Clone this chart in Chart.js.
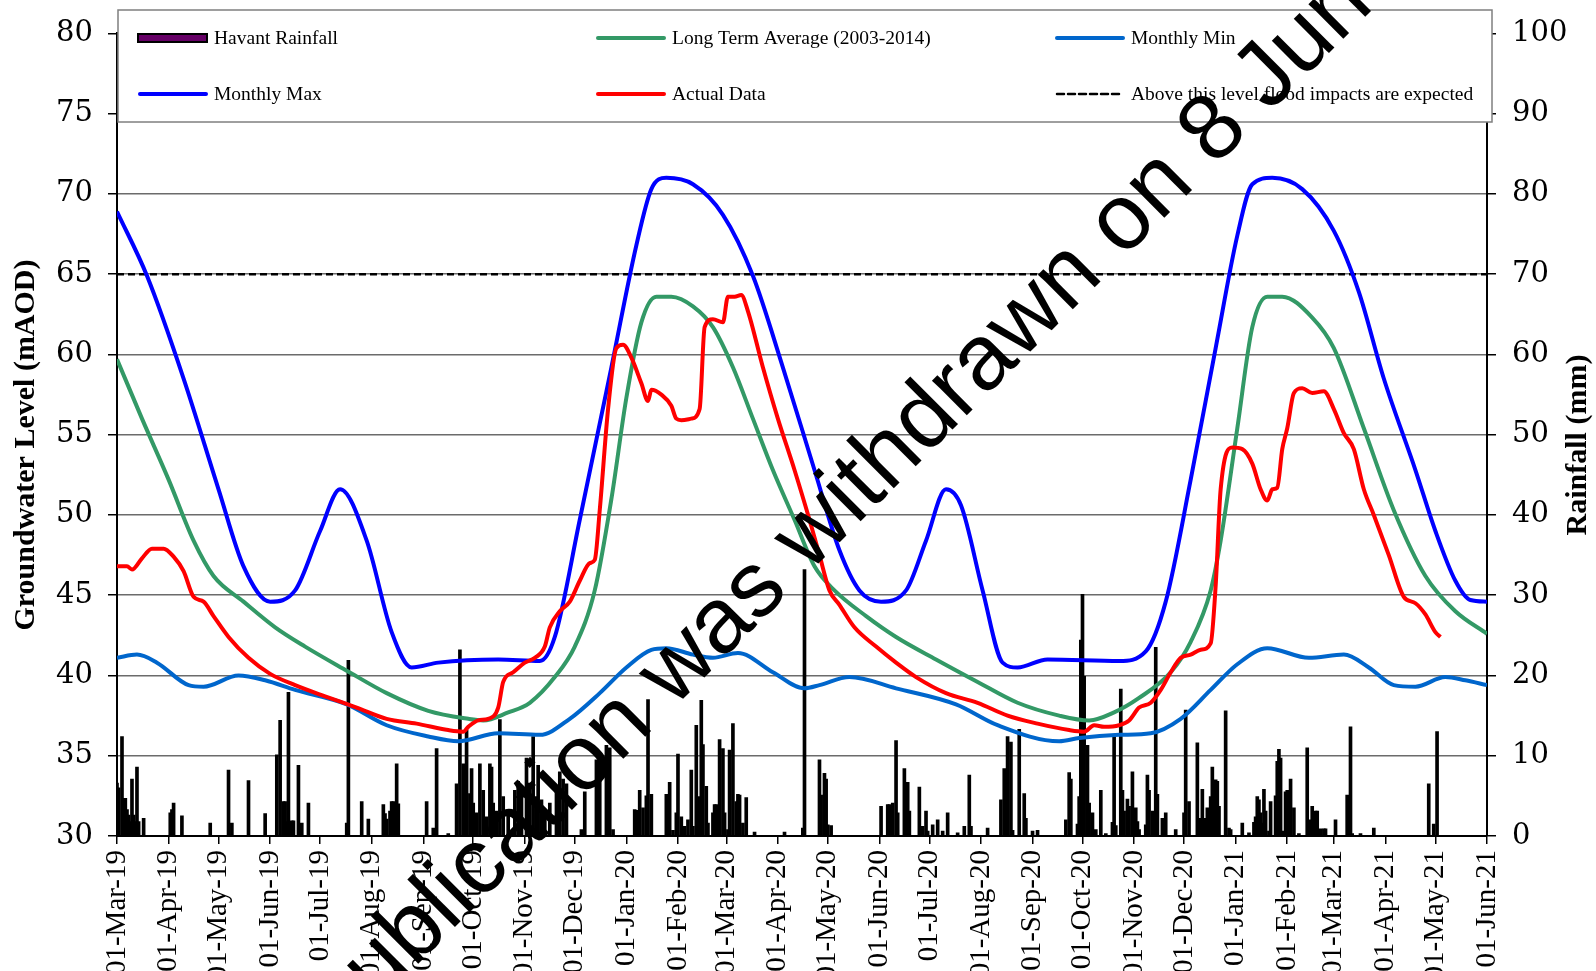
<!DOCTYPE html>
<html>
<head>
<meta charset="utf-8">
<title>Havant groundwater level</title>
<script src="https://cdn.jsdelivr.net/npm/chart.js@4.4.0/dist/chart.umd.min.js"></script>
<style>
  html, body { margin: 0; padding: 0; background: #fff; }
  canvas { display: block; }
</style>
</head>
<body>
<canvas id="myChart" width="1596" height="971"></canvas>
<script>
'use strict';

// x values are days counted from 01-Mar-2019
const tickDays = [0, 31, 61, 92, 122, 153, 184, 214, 245, 275, 306, 337, 366, 397, 427, 458, 488, 519, 550, 580, 611, 641, 672, 703, 731, 762, 792, 823];
const tickLabels = ['01-Mar-19', '01-Apr-19', '01-May-19', '01-Jun-19', '01-Jul-19', '01-Aug-19', '01-Sep-19', '01-Oct-19', '01-Nov-19', '01-Dec-19',
  '01-Jan-20', '01-Feb-20', '01-Mar-20', '01-Apr-20', '01-May-20', '01-Jun-20', '01-Jul-20', '01-Aug-20', '01-Sep-20', '01-Oct-20', '01-Nov-20', '01-Dec-20',
  '01-Jan-21', '01-Feb-21', '01-Mar-21', '01-Apr-21', '01-May-21', '01-Jun-21'];

// daily rainfall (mm), only the wet days
const rainDays = [0, 1, 3, 4, 5, 6, 7, 8, 9, 10, 11, 12, 13, 16, 32, 33, 34, 39, 56, 67, 69, 79, 89,
  96, 98, 100, 101, 102, 103, 105, 106, 109, 111, 115, 138, 139, 147, 151,
  160, 161, 162, 164, 165, 166, 168, 169, 186, 190, 192, 199,
  204, 206, 208, 209, 210, 212, 213, 214, 216, 218, 220, 222, 224, 225, 226, 228, 230, 232, 235, 239, 241, 243, 246, 248, 250, 252, 253, 255, 257, 260, 264, 266, 268, 270,
  279, 281, 288, 290, 294, 296, 298, 311, 312, 314, 316, 318, 319, 321,
  330, 332, 334, 336, 337, 339, 341, 343, 345, 346, 348, 350, 351, 352, 354, 355, 358, 359, 360, 362, 364, 365, 367, 368, 370, 372, 373, 374, 376, 378, 383,
  401, 412, 413, 422, 423, 425, 426, 427, 429,
  459, 463, 464, 466, 468, 469, 473, 475, 476, 482, 484, 486, 487, 490, 493, 496, 499, 505, 509, 512, 513, 523,
  531, 533, 535, 537, 538, 542, 545, 546, 550, 553,
  570, 572, 573, 577, 578, 579, 580, 581, 583, 584, 586, 588, 591, 594, 598, 599, 600, 603, 604, 605, 607, 608, 610, 612, 613, 614, 618, 619, 620, 622, 624, 625, 628, 630, 636,
  641, 642, 644, 649, 651, 652, 654, 655, 657, 658, 660, 661, 662, 666, 668, 669,
  676, 680, 683, 684, 685, 686, 687, 688, 689, 690, 692, 693, 696, 697, 698, 699, 700, 702, 703, 705, 707, 710, 715, 717, 718, 720, 721, 723, 725, 726,
  732, 739, 741, 742, 747, 755, 788, 791, 793];
const rainMm = [6.6, 6.0, 12.4, 4.7, 4.7, 3.3, 2.6, 1.8, 7.1, 2.6, 1.8, 8.6, 1.8, 2.2, 2.9, 3.3, 4.1, 2.5, 1.6, 8.2, 1.6, 6.9, 2.8,
  10.1, 14.4, 4.3, 4.3, 1.8, 17.9, 1.9, 1.9, 8.8, 1.6, 4.1, 1.6, 21.9, 4.3, 2.1,
  3.9, 2.8, 2.1, 3.1, 4.3, 4.3, 9.0, 4.0, 4.3, 1.0, 10.9, 0.3,
  6.5, 23.2, 9.0, 4.1, 13.2, 5.3, 8.4, 4.1, 2.9, 9.0, 5.7, 2.4, 9.0, 8.6, 4.1, 3.1, 14.5, 4.9, 3.3, 5.7, 6.8, 5.3, 9.7, 6.6, 12.4, 4.9, 8.8, 4.5, 3.3, 4.1, 5.7, 8.0, 7.1, 6.5,
  0.8, 5.5, 9.5, 9.5, 11.3, 11.0, 0.8, 3.3, 3.2, 5.7, 3.5, 5.0, 17.0, 5.2,
  5.2, 6.7, 0.7, 2.9, 10.2, 2.4, 1.2, 2.0, 8.2, 1.2, 13.8, 4.9, 16.9, 11.4, 6.2, 1.6, 2.9, 3.9, 3.9, 12.0, 10.9, 2.9, 0.8, 10.7, 14.0, 4.3, 5.2, 5.1, 1.6, 4.8, 0.5,
  0.5, 1.0, 33.2, 9.5, 5.1, 7.8, 7.1, 1.4, 1.3,
  3.7, 3.9, 3.9, 4.1, 11.9, 2.9, 8.4, 6.7, 3.1, 6.1, 1.2, 3.1, 0.6, 1.4, 2.0, 0.6, 2.9, 0.4, 1.2, 7.6, 1.2, 1.0,
  4.5, 8.4, 12.4, 11.7, 0.7, 13.3, 5.3, 2.2, 0.6, 0.7,
  2.0, 7.9, 7.1, 1.5, 4.9, 24.4, 30.1, 19.9, 11.3, 4.1, 2.9, 0.8, 5.7, 0.3, 1.7, 12.6, 1.3, 18.3, 5.7, 3.1, 4.6, 3.7, 8.0, 3.5, 1.8, 0.8, 1.4, 7.6, 5.7, 3.1, 23.5, 5.2, 2.2, 2.9, 0.8,
  2.9, 15.7, 4.3, 11.6, 2.2, 5.8, 2.2, 3.5, 4.9, 8.6, 7.0, 6.8, 3.7, 15.6, 1.0, 0.8,
  1.6, 0.4, 1.7, 2.4, 4.9, 4.5, 2.9, 1.6, 5.8, 3.1, 0.6, 4.3, 5.0, 9.3, 10.8, 9.7, 0.6, 5.5, 5.7, 7.1, 3.5, 0.3, 11.0, 2.0, 3.7, 3.1, 3.1, 0.9, 0.9, 0.9,
  2.0, 5.1, 13.6, 0.3, 0.3, 1.0, 6.5, 1.5, 13.0];

// groundwater levels (mAOD)
const ltaDays = [0, 15, 31, 46, 58, 76, 95, 113, 138, 162, 187, 211, 220, 235, 248, 263, 275, 287, 297, 306, 315, 324, 333, 346, 358, 370, 382, 394, 407, 419, 431, 450, 468, 492, 517, 541, 566, 584, 599, 614, 633, 645, 657, 663, 673, 682, 691, 700, 718, 731, 749, 767, 786, 804, 823];
const ltaLevel = [59.7, 56.0, 52.2, 48.4, 46.2, 44.6, 43.0, 41.8, 40.3, 38.9, 37.8, 37.3, 37.2, 37.7, 38.3, 39.9, 41.8, 45.3, 51.0, 57.3, 62.0, 63.6, 63.6, 63.0, 61.7, 59.2, 56.0, 52.8, 49.7, 46.8, 45.3, 43.7, 42.4, 41.0, 39.6, 38.3, 37.5, 37.2, 37.7, 38.6, 40.2, 42.1, 45.3, 48.4, 55.4, 61.7, 63.6, 63.6, 62.3, 60.4, 55.4, 50.3, 46.2, 44.0, 42.6];

const minDays = [0, 12, 24, 43, 52, 73, 89, 107, 138, 162, 187, 205, 229, 254, 272, 290, 306, 321, 330, 346, 358, 373, 394, 413, 422, 440, 468, 504, 529, 566, 578, 602, 621, 639, 657, 673, 691, 716, 737, 752, 767, 780, 798, 810, 823];
const minLevel = [41.1, 41.3, 40.8, 39.4, 39.3, 40.0, 39.7, 39.1, 38.2, 36.9, 36.2, 35.9, 36.4, 36.3, 37.3, 38.9, 40.5, 41.6, 41.7, 41.3, 41.1, 41.4, 40.2, 39.2, 39.4, 39.9, 39.2, 38.2, 36.9, 35.9, 36.1, 36.3, 36.4, 37.3, 39.1, 40.7, 41.7, 41.1, 41.3, 40.5, 39.4, 39.3, 39.9, 39.7, 39.4];

const maxDays = [0, 18, 40, 61, 76, 92, 107, 122, 134, 150, 165, 177, 193, 229, 254, 263, 278, 297, 312, 321, 330, 346, 364, 382, 400, 419, 434, 446, 459, 474, 486, 498, 507, 520, 532, 541, 559, 602, 618, 630, 645, 660, 673, 682, 694, 712, 731, 746, 761, 780, 792, 804, 813, 823];
const maxLevel = [68.9, 64.9, 58.5, 51.6, 46.8, 44.6, 45.3, 49.0, 51.6, 48.4, 42.7, 40.5, 40.8, 41.0, 40.9, 42.4, 49.7, 59.2, 66.8, 70.3, 71.0, 70.6, 68.7, 64.9, 59.2, 52.8, 47.8, 45.3, 44.6, 45.3, 48.4, 51.6, 50.6, 45.3, 40.8, 40.5, 41.0, 40.9, 41.5, 44.6, 52.2, 60.4, 67.4, 70.6, 71.0, 70.3, 67.7, 63.9, 58.5, 52.8, 49.0, 45.9, 44.7, 44.6];

const actualDays = [0, 6, 9, 15, 21, 28, 34, 40, 46, 52, 58, 67, 79, 92, 107, 125, 144, 162, 180, 199, 208, 211, 217, 223, 229, 232, 238, 245, 251, 257, 260, 266, 272, 278, 284, 287,
  290, 295, 300, 304, 309, 315, 319, 321, 327, 333, 336, 339, 345, 350, 353, 358, 364, 367, 371, 375, 379, 388, 397, 407, 416, 422, 428, 434, 443, 456, 468, 480, 498, 517, 535, 553,
  572, 581, 587, 593, 602, 608, 614, 621, 627, 633, 639, 645, 651, 657, 660, 663, 670, 676, 682, 687, 691, 694, 697, 700, 703, 707, 712, 718, 725, 731, 737, 743, 749, 755, 764, 773, 780, 786, 792, 795];
const actualLevel = [46.8, 46.8, 46.6, 47.3, 47.9, 47.9, 47.4, 46.5, 44.9, 44.6, 43.7, 42.4, 41.1, 40.1, 39.4, 38.7, 38.0, 37.3, 37.0, 36.6, 36.5, 36.8, 37.2, 37.3, 38.0, 39.6, 40.2, 40.8, 41.1, 41.8, 43.0, 44.0, 44.6, 45.9, 47.0, 47.2,
  50.3, 56.6, 60.4, 60.6, 59.8, 58.2, 57.1, 57.8, 57.5, 56.8, 56.0, 55.9, 56.0, 56.6, 61.7, 62.2, 62.0, 63.6, 63.6, 63.7, 62.7, 59.2, 56.0, 52.8, 49.7, 47.5, 45.3, 44.4, 43.0, 41.8, 40.8, 39.9, 38.9, 38.3, 37.5, 37.0,
  36.6, 36.5, 36.9, 36.8, 36.9, 37.2, 38.0, 38.3, 39.1, 40.2, 41.1, 41.3, 41.6, 42.0, 45.6, 51.6, 54.2, 54.1, 53.2, 51.6, 50.9, 51.6, 51.7, 54.1, 55.4, 57.6, 57.9, 57.6, 57.7, 56.6, 55.1, 54.1, 51.6, 50.0, 47.5, 44.9, 44.5, 43.8, 42.7, 42.4];

const floodLevel = 65;

const toPoints = (days, vals) => days.map((d, i) => ({ x: d, y: vals[i] }));
const SERIF = '"Liberation Serif", "Times New Roman", serif';

const lineSet = (label, days, vals, color, order) => ({
  type: 'line',
  label: label,
  data: toPoints(days, vals),
  borderColor: color,
  backgroundColor: color,
  borderWidth: 4,
  pointRadius: 0,
  cubicInterpolationMode: 'monotone',
  yAxisID: 'y',
  order: order
});

// legend (2 rows x 3 columns), axis titles and the watermark
const overlay = {
  id: 'overlay',
  afterDatasetsDraw(chart) {
    const c = chart.ctx;
    const ds = chart.data.datasets;
    c.save();
    c.fillStyle = '#fff';
    c.fillRect(118, 10, 1374, 112);
    c.strokeStyle = '#7f7f7f';
    c.lineWidth = 1.5;
    c.strokeRect(118, 10, 1374, 112);

    const cols = [138, 596, 1055];
    const rows = [38, 94];
    const legendOrder = [0, 2, 4, 3, 5, 1];
    c.font = '19.5px ' + SERIF;
    c.textBaseline = 'middle';
    c.textAlign = 'left';
    legendOrder.forEach((idx, k) => {
      const d = ds[idx];
      const x = cols[k % 3];
      const y = rows[Math.floor(k / 3)];
      if (d.type === 'line') {
        c.beginPath();
        c.lineCap = 'round';
        c.lineWidth = d.borderWidth;
        c.strokeStyle = d.borderColor;
        c.setLineDash(d.borderDash || []);
        c.moveTo(x + 2, y);
        c.lineTo(x + 68, y);
        c.stroke();
        c.setLineDash([]);
      } else {
        c.fillStyle = '#660066';
        c.fillRect(x, y - 4, 69, 8);
        c.lineWidth = 2;
        c.strokeStyle = '#000';
        c.strokeRect(x, y - 4, 69, 8);
      }
      c.fillStyle = '#000';
      c.fillText(d.label, x + 76, y + 1);
    });
    c.restore();
  },
  afterDraw(chart) {
    const c = chart.ctx;
    c.save();
    c.fillStyle = '#000';
    c.font = 'bold 30px ' + SERIF;
    c.textAlign = 'center';
    c.textBaseline = 'middle';
    c.translate(26, 445);
    c.rotate(-Math.PI / 2);
    c.fillText('Groundwater Level (mAOD)', 0, 0);
    c.restore();

    c.save();
    c.fillStyle = '#000';
    c.font = 'bold 30px ' + SERIF;
    c.textAlign = 'center';
    c.textBaseline = 'middle';
    c.translate(1578, 445);
    c.rotate(-Math.PI / 2);
    c.fillText('Rainfall (mm)', 0, 0);
    c.restore();

    c.save();
    c.fillStyle = '#000';
    c.font = '93px "Liberation Sans", Arial, sans-serif';
    c.textBaseline = 'alphabetic';
    c.textAlign = 'left';
    c.translate(414, 968);
    c.rotate(-Math.PI / 4);
    c.fillText('publication was withdrawn on 8 June', -c.measureText('pu').width, 0);
    c.restore();
  }
};

const ctx = document.getElementById('myChart');

new Chart(ctx, {
  type: 'bar',
  data: {
    datasets: [
      {
        type: 'bar',
        label: 'Havant Rainfall',
        data: toPoints(rainDays, rainMm),
        backgroundColor: '#000',
        borderWidth: 0,
        barThickness: 3,
        yAxisID: 'y2',
        order: 10
      },
      {
        type: 'line',
        label: 'Above this level flood impacts are expected',
        data: [{ x: 0, y: floodLevel }, { x: 823, y: floodLevel }],
        borderColor: '#000',
        borderWidth: 2.5,
        borderDash: [7, 4],
        pointRadius: 0,
        yAxisID: 'y',
        order: 6
      },
      lineSet('Long Term Average (2003-2014)', ltaDays, ltaLevel, '#339966', 5),
      lineSet('Monthly Max', maxDays, maxLevel, '#0000ff', 4),
      lineSet('Monthly Min', minDays, minLevel, '#0066cc', 3),
      lineSet('Actual Data', actualDays, actualLevel, '#ff0000', 1)
    ]
  },
  options: {
    responsive: false,
    animation: false,
    layout: { padding: { top: 32, left: 0, right: 0, bottom: 0 } },
    plugins: {
      legend: { display: false },
      tooltip: { enabled: false }
    },
    scales: {
      x: {
        type: 'linear',
        min: 0,
        max: 823,
        offset: false,
        afterBuildTicks: (axis) => { axis.ticks = tickDays.map(v => ({ value: v })); },
        afterFit: (axis) => { axis.height = 135; },
        grid: { offset: false, drawOnChartArea: false, color: '#000', lineWidth: 1.5, tickLength: 8 },
        border: { color: '#000', width: 2 },
        ticks: {
          autoSkip: false,
          maxRotation: 90,
          minRotation: 90,
          padding: 6,
          color: '#000',
          font: { family: SERIF, size: 29 },
          callback: (v) => tickLabels[tickDays.indexOf(v)]
        }
      },
      y: {
        position: 'left',
        min: 30,
        max: 80,
        afterFit: (axis) => { axis.width = 117; },
        grid: { color: '#6b6b6b', lineWidth: 1.5, tickLength: 9, tickColor: '#000' },
        border: { color: '#000', width: 2 },
        ticks: { stepSize: 5, padding: 15, color: '#000', font: { family: '"DejaVu Serif", serif', size: 29 } }
      },
      y2: {
        position: 'right',
        min: 0,
        max: 100,
        afterFit: (axis) => { axis.width = 109; },
        grid: { drawOnChartArea: false, color: '#000', lineWidth: 1.5, tickLength: 9 },
        border: { color: '#000', width: 2 },
        ticks: { stepSize: 10, padding: 16, color: '#000', font: { family: '"DejaVu Serif", serif', size: 29 } }
      }
    }
  },
  plugins: [overlay]
});
</script>
</body>
</html>
